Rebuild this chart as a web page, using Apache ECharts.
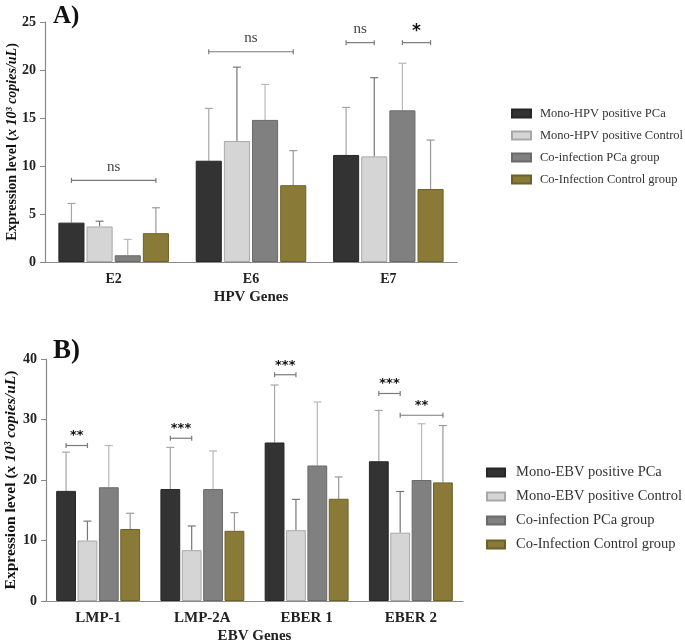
<!DOCTYPE html>
<html lang="en">
<head>
    <meta charset="UTF-8">
    <title>HPV / EBV gene expression</title>
    <script src="https://cdn.jsdelivr.net/npm/echarts@6/dist/echarts.min.js"></script>
    <style>
        html, body { margin: 0; padding: 0; background: #fff; }
    </style>
</head>
<body>
    <div id="main" style="width:685px;height:643px;"></div>

    <script>
        // ---- data, panel A (HPV) ----
        const hpvGenes = ['E2', 'E6', 'E7'];
        const hpvGroups = ['Mono-HPV positive PCa', 'Mono-HPV positive Control', 'Co-infection PCa group', 'Co-Infection Control group'];
        const hpvMean = [
            [4.1, 10.55, 11.15],
            [3.7, 12.6, 11.0],
            [0.7, 14.8, 15.8],
            [3.0, 8.0, 7.6]
        ];
        const hpvUpper = [
            [6.1, 16.0, 16.1],
            [4.25, 20.3, 19.2],
            [2.35, 18.5, 20.7],
            [5.65, 11.6, 12.7]
        ];
        // [gene index, from group, to group, height, label]
        const hpvSig = [
            [0, 0, 3, 8.5, 'ns'],
            [1, 0, 3, 21.9, 'ns'],
            [2, 0, 1, 22.85, 'ns'],
            [2, 2, 3, 22.85, '*']
        ];

        // ---- data, panel B (EBV) ----
        const ebvGenes = ['LMP-1', 'LMP-2A', 'EBER 1', 'EBER 2'];
        const ebvGroups = ['Mono-EBV positive PCa', 'Mono-EBV positive Control', 'Co-infection PCa group', 'Co-Infection Control group'];
        const ebvMean = [
            [18.2, 18.5, 26.2, 23.1],
            [10.0, 8.4, 11.7, 11.3],
            [18.8, 18.5, 22.4, 20.0],
            [11.9, 11.6, 16.9, 19.6]
        ];
        const ebvUpper = [
            [24.6, 25.4, 35.7, 31.5],
            [13.2, 12.4, 16.8, 18.1],
            [25.7, 24.8, 32.9, 29.3],
            [14.5, 14.6, 20.5, 29.0]
        ];
        const ebvSig = [
            [0, 0, 1, 25.7, '**'],
            [1, 0, 1, 26.9, '***'],
            [2, 0, 1, 37.4, '***'],
            [3, 0, 1, 34.3, '***'],
            [3, 1, 3, 30.7, '**']
        ];

        const barColors = ['#333333', '#d5d5d5', '#808080', '#8a7a38'];
        const barBorders = ['#262626', '#a8a8a8', '#6a6a6a', '#6e6128'];
        const errColors = ['#a6a6a6', '#777777', '#b8b8b8', '#9a9a9a'];
        const serif = 'Liberation Serif';

        // bar geometry as fraction of category band
        const BW = 0.19, GAP = 0.015;
        const groupW = 4 * BW + 3 * GAP;
        function barOffset(k) {
            return -groupW / 2 + k * (BW + GAP) + BW / 2;
        }

        function errRender(k) {
            return function (params, api) {
                const base = api.coord([api.value(0), api.value(1)]);
                const top = api.coord([api.value(0), api.value(2)]);
                const band = api.size([1, 0])[0];
                const x = base[0] + barOffset(k) * band;
                const style = { stroke: errColors[k], lineWidth: 1.2 };
                return {
                    type: 'group',
                    children: [
                        { type: 'line', shape: { x1: x, y1: base[1], x2: x, y2: top[1] }, style: style },
                        { type: 'line', shape: { x1: x - 4, y1: top[1], x2: x + 4, y2: top[1] }, style: style }
                    ]
                };
            };
        }

        function sigRender(big) {
            return function (params, api) {
                const p = api.coord([api.value(0), api.value(3)]);
                const band = api.size([1, 0])[0];
                const x1 = p[0] + barOffset(api.value(1)) * band;
                const x2 = p[0] + barOffset(api.value(2)) * band;
                const y = p[1];
                const lbl = api.value(4);
                const isNs = lbl === 'ns';
                const ls = { stroke: '#7a7a7a', lineWidth: 1.2 };
                return {
                    type: 'group',
                    children: [
                        { type: 'line', shape: { x1: x1, y1: y, x2: x2, y2: y }, style: ls },
                        { type: 'line', shape: { x1: x1, y1: y - 2.5, x2: x1, y2: y + 2.5 }, style: ls },
                        { type: 'line', shape: { x1: x2, y1: y - 2.5, x2: x2, y2: y + 2.5 }, style: ls },
                        {
                            type: 'text',
                            x: (x1 + x2) / 2,
                            y: isNs ? y - 6 : y - 3,
                            style: {
                                text: lbl,
                                textAlign: 'center',
                                textVerticalAlign: 'bottom',
                                fill: isNs ? '#444' : '#111',
                                font: isNs ? ('15px "' + serif + '"')
                                    : ('bold ' + (big ? 17 : 13) + 'px "DejaVu Sans"')
                            }
                        }
                    ]
                };
            };
        }

        function buildSeries(groups, mean, upper, sig, idx, bigStar) {
            const out = [];
            groups.forEach(function (g, k) {
                out.push({
                    name: g,
                    type: 'bar',
                    xAxisIndex: idx,
                    yAxisIndex: idx,
                    barWidth: (BW * 100) + '%',
                    barGap: (GAP / BW * 100).toFixed(1) + '%',
                    itemStyle: { color: barColors[k], borderColor: barBorders[k], borderWidth: 1 },
                    data: mean[k],
                    z: 2
                });
            });
            groups.forEach(function (g, k) {
                out.push({
                    type: 'custom',
                    xAxisIndex: idx,
                    yAxisIndex: idx,
                    renderItem: errRender(k),
                    encode: { x: 0, y: [1, 2] },
                    data: mean[k].map(function (v, i) { return [i, v, upper[k][i]]; }),
                    z: 1,
                    silent: true
                });
            });
            out.push({
                type: 'custom',
                xAxisIndex: idx,
                yAxisIndex: idx,
                renderItem: sigRender(bigStar),
                encode: { x: 0, y: 3 },
                data: sig,
                z: 3,
                silent: true
            });
            return out;
        }

        function yAxis(idx, max, interval, nameSize, gap) {
            return {
                type: 'value',
                gridIndex: idx,
                min: 0, max: max, interval: interval,
                name: '{b|Expression level (}{i|x 10³ copies/uL}{b|)}',
                nameLocation: 'middle',
                nameRotate: 90,
                nameGap: gap,
                nameMoveOverlap: false,
                nameTextStyle: {
                    rich: {
                        b: { fontFamily: serif, fontWeight: 'bold', fontSize: nameSize, color: '#111' },
                        i: { fontFamily: serif, fontWeight: 'bold', fontStyle: 'italic', fontSize: nameSize, color: '#111' }
                    }
                },
                axisLine: { show: true, lineStyle: { color: '#8a8a8a', width: 1.2 } },
                axisTick: { show: true, length: 5, lineStyle: { color: '#8a8a8a' } },
                axisLabel: { fontFamily: serif, fontWeight: 'bold', fontSize: 14, color: '#222', margin: 9 },
                splitLine: { show: false }
            };
        }

        function xAxis(idx, cats, name, labelSize) {
            return {
                type: 'category',
                gridIndex: idx,
                data: cats,
                name: name,
                nameLocation: 'middle',
                nameGap: 28,
                nameTextStyle: { fontFamily: serif, fontWeight: 'bold', fontSize: 15, color: '#222' },
                axisLine: { lineStyle: { color: '#8a8a8a', width: 1.2 } },
                axisTick: { alignWithLabel: true, length: 5, lineStyle: { color: '#8a8a8a' } },
                axisLabel: { fontFamily: serif, fontWeight: 'bold', fontSize: labelSize, color: '#222', margin: 10 }
            };
        }

        const option = {
            animation: false,
            backgroundColor: '#fff',
            title: [
                { text: 'A)', left: 48, top: -1, textStyle: { fontFamily: serif, fontWeight: 'bold', fontSize: 25, color: '#111' } },
                { text: 'B)', left: 48, top: 333, textStyle: { fontFamily: serif, fontWeight: 'bold', fontSize: 27, color: '#111' } }
            ],
            grid: [
                { left: 45, top: 22, width: 412, height: 240, outerBoundsMode: 'none' },
                { left: 46, top: 359, width: 417, height: 242, outerBoundsMode: 'none' }
            ],
            legend: [
                {
                    data: hpvGroups,
                    orient: 'vertical',
                    left: 511, top: 107,
                    padding: 0,
                    itemWidth: 19, itemHeight: 8, itemGap: 9,
                    icon: 'rect',
                    selectedMode: false,
                    textStyle: { fontFamily: serif, fontSize: 12.5, color: '#333', padding: [0, 0, 0, 4] }
                },
                {
                    data: ebvGroups,
                    orient: 'vertical',
                    left: 486, top: 465,
                    padding: 0,
                    itemWidth: 18, itemHeight: 8, itemGap: 9,
                    icon: 'rect',
                    selectedMode: false,
                    textStyle: { fontFamily: serif, fontSize: 14.5, color: '#333', padding: [0, 0, 0, 6] }
                }
            ],
            xAxis: [
                xAxis(0, hpvGenes, 'HPV Genes', 14),
                xAxis(1, ebvGenes, 'EBV Genes', 15)
            ],
            yAxis: [
                yAxis(0, 25, 5, 14, 26),
                yAxis(1, 40, 10, 15.5, 27)
            ],
            series: buildSeries(hpvGroups, hpvMean, hpvUpper, hpvSig, 0, true)
                .concat(buildSeries(ebvGroups, ebvMean, ebvUpper, ebvSig, 1, false))
        };

        var myChart = echarts.init(document.getElementById('main'));
        myChart.setOption(option);
    </script>
</body>
</html>
